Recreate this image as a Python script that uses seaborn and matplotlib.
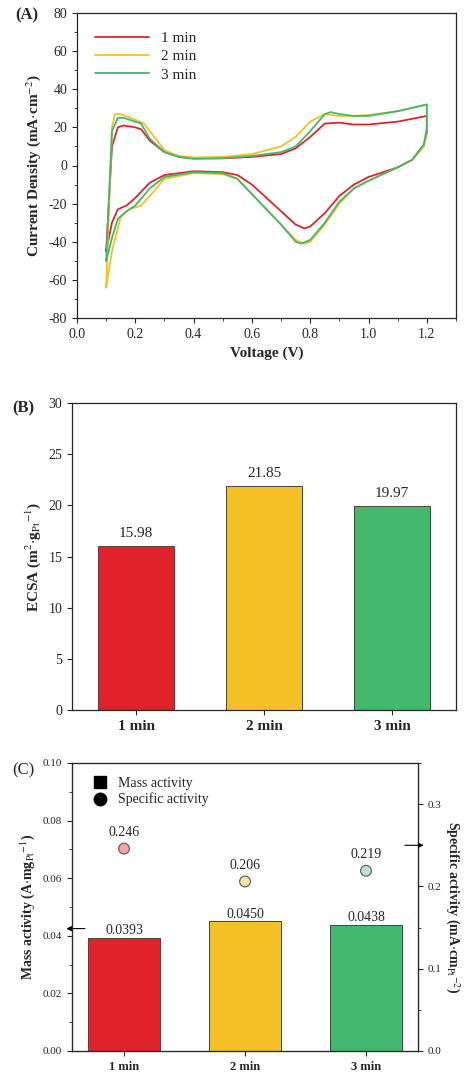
import numpy as np
import pandas as pd
import matplotlib
matplotlib.use("Agg")
import matplotlib.pyplot as plt
import seaborn as sns
from matplotlib.ticker import MultipleLocator
from matplotlib.lines import Line2D

sns.set_style("ticks")
plt.rcParams['font.family'] = ['Liberation Serif', 'DejaVu Serif']
plt.rcParams['mathtext.fontset'] = 'stix'
plt.rcParams['axes.unicode_minus'] = False

# CV curves (anodic then cathodic sweep)
v1 = [0.1, 0.12, 0.14, 0.16, 0.2, 0.22, 0.25, 0.3, 0.35, 0.4, 0.5, 0.6, 0.7, 0.75, 0.8, 0.85, 0.9, 0.95, 1.0, 1.1, 1.2,
      1.2, 1.19, 1.15, 1.1, 1.0, 0.95, 0.9, 0.85, 0.8, 0.78, 0.75, 0.7, 0.6, 0.55, 0.5, 0.4, 0.3, 0.25, 0.2, 0.17, 0.14, 0.12, 0.1]
j1 = [-45, 10, 20, 21, 20, 19, 13, 7, 4.5, 3.8, 3.8, 4.5, 6, 9, 15, 22, 22.5, 21.5, 21.5, 23, 26,
      17, 11, 3, -1, -6, -10, -16, -25, -32, -33, -31, -24, -10, -5, -3.5, -3, -5, -9, -17, -21, -23, -30, -45]
v2 = [0.1, 0.12, 0.13, 0.15, 0.2, 0.23, 0.25, 0.3, 0.35, 0.4, 0.5, 0.6, 0.7, 0.75, 0.8, 0.85, 0.9, 0.95, 1.0, 1.1, 1.2,
      1.2, 1.19, 1.15, 1.1, 1.0, 0.95, 0.9, 0.85, 0.8, 0.78, 0.75, 0.7, 0.6, 0.55, 0.5, 0.4, 0.3, 0.25, 0.22, 0.18, 0.15, 0.12, 0.1]
j2 = [-64, 20, 27, 27, 24, 22, 18, 8, 5, 4.2, 4.5, 6, 10, 15, 23, 27, 26, 26, 26.5, 28.5, 32,
      19, 10, 3, -1, -8, -12, -20, -31, -40, -41, -39, -31, -15, -7, -4.5, -4, -7, -16, -21, -23, -27, -45, -64]
v3 = [0.1, 0.12, 0.14, 0.16, 0.2, 0.22, 0.25, 0.3, 0.35, 0.4, 0.5, 0.6, 0.7, 0.75, 0.8, 0.85, 0.87, 0.9, 0.95, 1.0, 1.1, 1.2,
      1.2, 1.19, 1.15, 1.1, 1.0, 0.95, 0.9, 0.85, 0.8, 0.77, 0.75, 0.7, 0.6, 0.55, 0.5, 0.4, 0.3, 0.25, 0.2, 0.17, 0.14, 0.12, 0.1]
j3 = [-50, 18, 25, 25, 23, 22, 14, 7, 4.5, 3.5, 3.8, 5, 7, 10, 18, 27, 28, 27, 26, 26, 28.5, 32,
      20, 11, 3, -1, -8, -12, -19, -30, -39, -41, -40, -31, -15, -7, -4, -3.5, -6, -12, -21, -24, -28, -38, -50]

samples = ["1 min", "2 min", "3 min"]
colors = ["#e0232b", "#f4c025", "#44b86e"]
ecsa = [15.98, 21.85, 19.97]
mass_act = [0.0393, 0.0450, 0.0438]
spec_act = [0.246, 0.206, 0.219]
dot_colors = ["#f4a3a6", "#fbe6a6", "#bfe3c9"]

fig = plt.figure(figsize=(4.67, 10.76), dpi=100)
W, H = 467, 1076
def box(l, t, r, b):
    return [l / W, 1 - b / H, (r - l) / W, (b - t) / H]

lab = dict(fontsize=11, fontweight='bold')

# (A)
ax1 = fig.add_axes(box(77, 13, 456, 318))
for v, j, c, s in zip([v1, v2, v3], [j1, j2, j3], colors, samples):
    sns.lineplot(x=v, y=j, sort=False, color=c, lw=1.3, ax=ax1, label=s, estimator=None)
ax1.set_xlim(0, 1.3)
ax1.set_ylim(-80, 80)
ax1.xaxis.set_major_locator(MultipleLocator(0.2))
ax1.xaxis.set_minor_locator(MultipleLocator(0.1))
ax1.yaxis.set_major_locator(MultipleLocator(20))
ax1.yaxis.set_minor_locator(MultipleLocator(10))
ax1.set_xlabel("Voltage (V)", **lab)
ax1.set_ylabel(r"Current Density (mA$\cdot$cm$^{-2}$)", **lab)
ax1.legend(loc='upper left', frameon=False, fontsize=11, handlelength=3.5, borderaxespad=0.8, labelspacing=0.3)
fig.text(15 / W, 1 - 15 / H, "(A)", fontsize=12, fontweight='bold', va='center')

# (B)
ax2 = fig.add_axes(box(72, 403, 456, 710))
sns.barplot(x=samples, y=ecsa, hue=samples, palette=colors, width=0.6, edgecolor='#444444', linewidth=0.7,
            ax=ax2, legend=False, saturation=1)
for i, val in enumerate(ecsa):
    ax2.text(i, val + 0.6, f"{val:.2f}", ha='center', va='bottom', fontsize=11)
ax2.set_ylim(0, 30)
ax2.yaxis.set_major_locator(MultipleLocator(5))
ax2.set_ylabel(r"ECSA (m$^2$$\cdot$g$_{\mathrm{Pt}}$$^{-1}$)", **lab)
for t in ax2.get_xticklabels():
    t.set_fontweight('bold'); t.set_fontsize(11)
fig.text(12 / W, 1 - 408 / H, "(B)", fontsize=12, fontweight='bold', va='center')

# (C)
ax3 = fig.add_axes(box(72, 763, 418, 1051))
sns.barplot(x=samples, y=mass_act, hue=samples, palette=colors, width=0.6, edgecolor='#444444', linewidth=0.7,
            ax=ax3, legend=False, saturation=1)
for i, val in enumerate(mass_act):
    ax3.text(i, val + 0.0003, f"{val:.4f}", ha='center', va='bottom', fontsize=10)
ax3.set_ylim(0, 0.10)
ax3.yaxis.set_major_locator(MultipleLocator(0.02))
ax3.yaxis.set_minor_locator(MultipleLocator(0.01))
ax3.set_ylabel(r"Mass activity (A$\cdot$mg$_{\mathrm{Pt}}$$^{-1}$)", fontsize=10, fontweight='bold')
for t in ax3.get_xticklabels():
    t.set_fontweight('bold'); t.set_fontsize(9)
ax3.tick_params(axis='y', labelsize=8)
fig.text(12 / W, 1 - 770 / H, "(C)", fontsize=12, va='center')
ax4 = ax3.twinx()
ax4.scatter(range(3), spec_act, c=dot_colors, s=60, edgecolors='#555555', linewidths=0.8, zorder=3)
for i, val in enumerate(spec_act):
    ax4.text(i, val + 0.012, f"{val:.3f}", ha='center', va='bottom', fontsize=10)
ax4.set_ylim(0, 0.35)
ax4.yaxis.set_major_locator(MultipleLocator(0.1))
ax4.yaxis.set_minor_locator(MultipleLocator(0.05))
ax4.tick_params(axis='y', labelsize=8)
ax4.set_ylabel(r"Specific activity (mA$\cdot$cm$_{\mathrm{Pt}}$$^{-2}$)", fontsize=10, fontweight='bold',
               rotation=270, labelpad=14)
ax3.annotate("", xy=(-0.5, 0.0425), xytext=(-0.3, 0.0425), annotation_clip=False,
             arrowprops=dict(arrowstyle='-|>', color='black', lw=0.8, mutation_scale=7))
ax4.annotate("", xy=(2.5, 0.25), xytext=(2.3, 0.25), annotation_clip=False,
             arrowprops=dict(arrowstyle='-|>', color='black', lw=0.8, mutation_scale=7))
handles = [Line2D([], [], marker='s', ls='', color='black', markersize=9),
           Line2D([], [], marker='o', ls='', color='black', markersize=9)]
ax3.legend(handles, ["Mass activity", "Specific activity"], loc='upper left', frameon=False, fontsize=10,
           handletextpad=0.3, borderaxespad=0.6, labelspacing=0.2)

for a in [ax1, ax2, ax3]:
    for s in a.spines.values():
        s.set_linewidth(0.9)

fig.savefig("out.png", dpi=100)
